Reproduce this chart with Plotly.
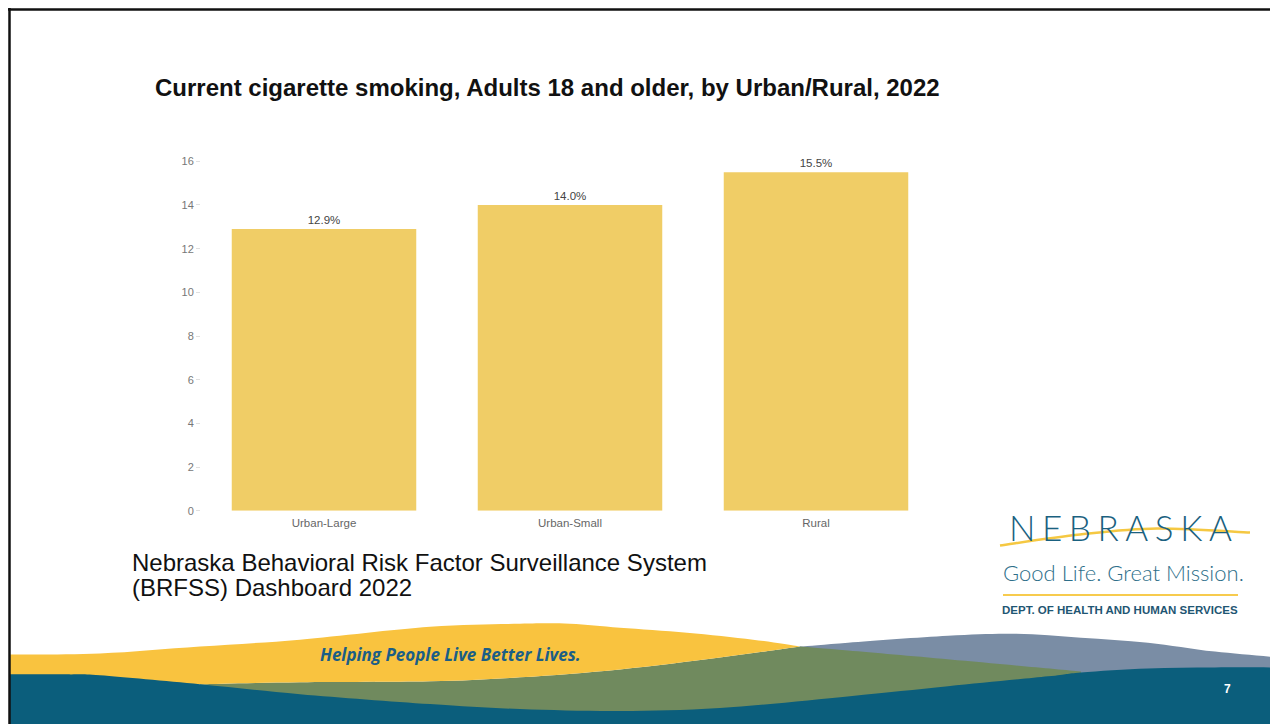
import plotly.graph_objects as go

# ---------------- data ----------------
categories = ["Urban-Large", "Urban-Small", "Rural"]
values = [12.9, 14.0, 15.5]
value_labels = ["12.9%", "14.0%", "15.5%"]
y_ticks = [0, 2, 4, 6, 8, 10, 12, 14, 16]

title_text = "Current cigarette smoking, Adults 18 and older, by Urban/Rural, 2022"
source_line1 = "Nebraska Behavioral Risk Factor Surveillance System"
source_line2 = "(BRFSS) Dashboard 2022"

OFF = 8  # page body margin in the rendered html
W, H = 1278 - OFF, 724 - OFF


def px(x):
    return (x - OFF) / W


def py(y):
    return 1 - (y - OFF) / H


def curve(pts, move=True):
    """Catmull-Rom through pixel points -> cubic bezier path in paper coords."""
    out = []
    if move:
        out.append(f"M{px(pts[0][0]):.5f},{py(pts[0][1]):.5f}")
    else:
        out.append(f"L{px(pts[0][0]):.5f},{py(pts[0][1]):.5f}")
    for i in range(len(pts) - 1):
        p0 = pts[i - 1] if i > 0 else pts[i]
        p1 = pts[i]
        p2 = pts[i + 1]
        p3 = pts[i + 2] if i + 2 < len(pts) else pts[i + 1]
        c1 = (p1[0] + (p2[0] - p0[0]) / 6, p1[1] + (p2[1] - p0[1]) / 6)
        c2 = (p2[0] - (p3[0] - p1[0]) / 6, p2[1] - (p3[1] - p1[1]) / 6)
        out.append(
            f"C{px(c1[0]):.5f},{py(c1[1]):.5f} {px(c2[0]):.5f},{py(c2[1]):.5f} {px(p2[0]):.5f},{py(p2[1]):.5f}"
        )
    return " ".join(out)


def lines(pts):
    return " ".join(f"L{px(x):.5f},{py(y):.5f}" for x, y in pts)


# decorative wave outlines (pixel space of the slide)
yellow_top = [(10, 660), (100, 659), (200, 652), (300, 645), (430, 632), (520, 629),
              (570, 629), (620, 633), (687, 638), (753, 645), (800, 652)]
yellow_bottom = [(800, 652), (720, 663), (620, 675), (520, 683), (430, 687), (300, 688), (200, 690)]
green_top = [(800, 652), (848, 656), (950, 665), (1081, 677)]
gray_top = [(800, 652), (848, 648), (948, 641), (1015, 639), (1081, 643), (1148, 648),
            (1215, 657), (1290, 664)]
teal_top = [(10, 680), (67, 680), (100, 681), (200, 690), (300, 700), (430, 710), (520, 715),
            (620, 717), (720, 714), (850, 702), (948, 692), (1048, 682), (1081, 678),
            (1148, 674), (1215, 673), (1290, 673)]

gray_path = curve(gray_top) + " " + lines([(1290, 735), (800, 735)]) + " Z"
green_path = curve(yellow_bottom[::-1]) + " " + curve(green_top, move=False) + " " + \
    lines([(1081, 735), (200, 735)]) + " Z"
yellow_path = curve(yellow_top) + " " + curve(yellow_bottom, move=False) + " " + \
    lines([(120, 705), (10, 705)]) + " Z"
teal_path = curve(teal_top) + " " + lines([(1290, 735), (10, 735)]) + " Z"
swoosh_path = curve([(1000, 550), (1080, 539), (1157, 533), (1250, 537)])

fig = go.Figure()
fig.add_trace(go.Bar(
    x=categories, y=values, text=value_labels, textposition="outside",
    textfont=dict(family="Liberation Sans, Arial", size=11.5, color="#444444"),
    marker=dict(color="#F0CD66", line=dict(width=0)),
    width=0.75, cliponaxis=False, hoverinfo="skip",
))

shapes = []
for path, col in [(gray_path, "#7A8DA5"), (green_path, "#708A5E"),
                  (yellow_path, "#F9C33F"), (teal_path, "#0B5E7C")]:
    shapes.append(dict(type="path", xref="paper", yref="paper", path=path,
                       fillcolor=col, line=dict(width=0), layer="above"))
shapes.append(dict(type="path", xref="paper", yref="paper", path=swoosh_path,
                   line=dict(color="#F5C842", width=2.5)))
shapes.append(dict(type="line", xref="paper", yref="paper", x0=px(1003), x1=px(1238),
                   y0=py(600), y1=py(600), line=dict(color="#F7CB4E", width=2)))
# slide border
shapes.append(dict(type="line", xref="paper", yref="paper", x0=px(8), x1=px(1290),
                   y0=py(9.5), y1=py(9.5), line=dict(color="#111111", width=2.5)))
shapes.append(dict(type="line", xref="paper", yref="paper", x0=px(9.5), x1=px(9.5),
                   y0=py(8), y1=py(735), line=dict(color="#111111", width=2.5)))

sp = "\u2009\u200a"
annotations = [
    dict(text="<b>" + title_text + "</b>", x=px(153), y=py(88), xanchor="left", yanchor="middle",
         font=dict(family="Liberation Sans, Arial", size=24, color="#111111")),
    dict(text=source_line1, x=px(130), y=py(567), xanchor="left", yanchor="middle",
         font=dict(family="Liberation Sans, Arial", size=24, color="#111111")),
    dict(text=source_line2, x=px(130), y=py(592), xanchor="left", yanchor="middle",
         font=dict(family="Liberation Sans, Arial", size=24, color="#111111")),
    dict(text=sp.join("NEBRASKA"), x=px(1120), y=py(531), xanchor="center", yanchor="middle",
         font=dict(family="Lato", size=35, color="#1A6180", weight=300)),
    dict(text="Good Life. Great Mission.", x=px(1123), y=py(577), xanchor="center", yanchor="middle",
         font=dict(family="Lato", size=22, color="#2E6F8A", weight=300)),
    dict(text="<b>DEPT. OF HEALTH AND HUMAN SERVICES</b>", x=px(1120), y=py(615),
         xanchor="center", yanchor="middle",
         font=dict(family="Liberation Sans, Arial", size=11.5, color="#1F5673")),
    dict(text="<b><i>Helping People Live Better Lives.</i></b>", x=px(450), y=py(660),
         xanchor="center", yanchor="middle",
         font=dict(family="Open Sans", size=17, color="#1B5E86")),
    dict(text="<b>7</b>", x=px(1227), y=py(695), xanchor="center", yanchor="middle",
         font=dict(family="Liberation Sans, Arial", size=12, color="#FFFFFF")),
]
for a in annotations:
    a.update(xref="paper", yref="paper", showarrow=False)

fig.update_layout(
    width=W, height=H,
    margin=dict(l=0, r=0, t=0, b=0),
    paper_bgcolor="#FFFFFF", plot_bgcolor="#FFFFFF",
    showlegend=False, bargap=0.25,
    shapes=shapes, annotations=annotations,
    xaxis=dict(domain=[px(201), px(939)], range=[-0.5, 2.5], showgrid=False, zeroline=False,
               showline=False, ticks="", ticklabelstandoff=4,
               tickfont=dict(family="Liberation Sans, Arial", size=11.5, color="#666666")),
    yaxis=dict(domain=[py(515), py(156)], range=[0, 16.3], tickvals=y_ticks, showgrid=False,
               zeroline=False, showline=False, ticks="outside", ticklen=4, tickcolor="#E0E0E0",
               ticklabelstandoff=0,
               tickfont=dict(family="Liberation Sans, Arial", size=11, color="#777777")),
)

fig.write_html("out.html")
